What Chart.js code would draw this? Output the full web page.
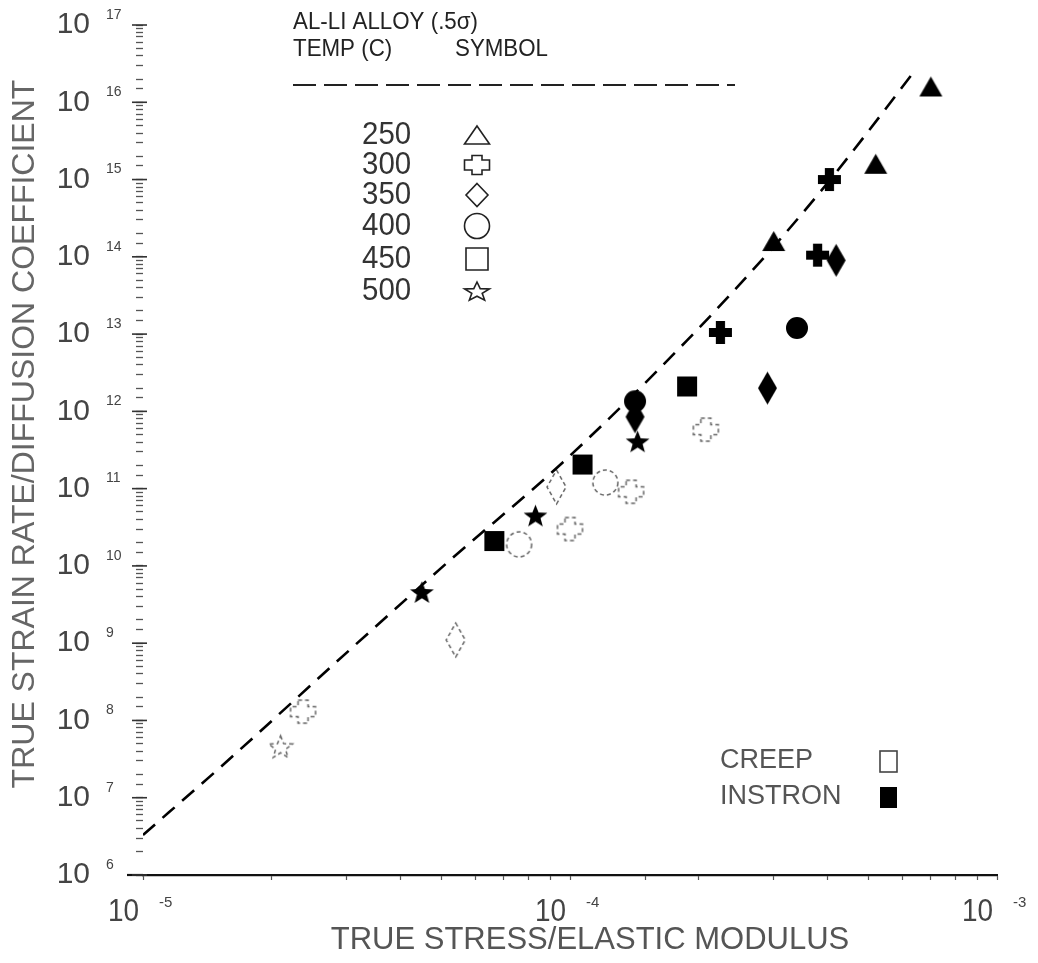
<!DOCTYPE html>
<html>
<head>
<meta charset="utf-8">
<title>Al-Li alloy creep</title>
<script src="https://cdn.jsdelivr.net/npm/chart.js@4.4.1/dist/chart.umd.min.js"></script>
<style>
  html, body { margin: 0; padding: 0; background: #fff; }
  #wrap { width: 1038px; height: 963px; position: relative; }
</style>
</head>
<body>
<div id="wrap"><canvas id="chart"></canvas></div>
<script>
// ---- data (x = true stress / E, y = strain rate / D) ----
const temps = ['250', '300', '350', '400', '450', '500'];
const shapes = ['triangle', 'cross', 'diamond', 'circle', 'square', 'star'];

// INSTRON tests (filled symbols)
const instron250 = [{ x: 7.0e-4, y: 1.6e16 }, { x: 5.2e-4, y: 1.6e15 }, { x: 3.0e-4, y: 1.6e14 }];
const instron300 = [{ x: 4.05e-4, y: 1.0e15 }, { x: 3.8e-4, y: 1.05e14 }, { x: 2.25e-4, y: 1.05e13 }];
const instron350 = [{ x: 4.2e-4, y: 9.0e13 }, { x: 2.9e-4, y: 2.0e12 }, { x: 1.42e-4, y: 8.5e11 }];
const instron400 = [{ x: 3.4e-4, y: 1.2e13 }, { x: 1.42e-4, y: 1.35e12 }];
const instron450 = [{ x: 1.88e-4, y: 2.1e12 }, { x: 1.07e-4, y: 2.05e11 }, { x: 6.65e-5, y: 2.1e10 }];
const instron500 = [{ x: 1.44e-4, y: 4.1e11 }, { x: 8.3e-5, y: 4.5e10 }, { x: 4.5e-5, y: 4.6e9 }];

// CREEP tests (open symbols)
const creep300 = [{ x: 2.08e-4, y: 5.8e11 }, { x: 1.39e-4, y: 9.1e10 }, { x: 1.0e-4, y: 3.0e10 }, { x: 2.37e-5, y: 1.3e8 }];
const creep350 = [{ x: 9.3e-5, y: 1.05e11 }, { x: 5.4e-5, y: 1.1e9 }];
const creep400 = [{ x: 1.21e-4, y: 1.2e11 }, { x: 7.6e-5, y: 1.9e10 }];
const creep500 = [{ x: 2.1e-5, y: 4.6e7 }];

// dashed fit curve
const fitX = [1.0e-5, 1.52e-5, 3.1e-5, 5.24e-5, 9.63e-5, 1.88e-4, 2.99e-4, 4.06e-4, 4.96e-4, 6.43e-4];
const fitY = [3.3e6, 2.5e7, 8.9e8, 1.19e10, 2.2e11, 8.3e12, 1.33e14, 9.8e14, 4.0e15, 2.6e16];

// tick labels (powers of ten)
const xExps = [-5, -4, -3];
const yExps = [6, 7, 8, 9, 10, 11, 12, 13, 14, 15, 16, 17];

const FONT = '"Liberation Sans", Arial, sans-serif';

function shapePath(c, shape, w, h) {
  const a = w / 2, b = h / 2;
  c.beginPath();
  if (shape === 'triangle') {
    c.moveTo(0, -b); c.lineTo(a, b); c.lineTo(-a, b); c.closePath();
  } else if (shape === 'cross') {
    const t = w * 0.2;
    c.moveTo(-t, -b); c.lineTo(t, -b); c.lineTo(t, -t); c.lineTo(a, -t); c.lineTo(a, t);
    c.lineTo(t, t); c.lineTo(t, b); c.lineTo(-t, b); c.lineTo(-t, t); c.lineTo(-a, t);
    c.lineTo(-a, -t); c.lineTo(-t, -t); c.closePath();
  } else if (shape === 'diamond') {
    c.moveTo(0, -b); c.lineTo(a, 0); c.lineTo(0, b); c.lineTo(-a, 0); c.closePath();
  } else if (shape === 'circle') {
    c.ellipse(0, 0, a, b, 0, 0, Math.PI * 2);
  } else if (shape === 'square') {
    c.rect(-a, -b, w, h);
  } else if (shape === 'star') {
    for (let i = 0; i < 10; i++) {
      const r = i % 2 ? 0.42 : 1;
      const ang = -Math.PI / 2 + i * Math.PI / 5;
      c.lineTo(Math.cos(ang) * a * r, Math.sin(ang) * b * r + b * 0.1);
    }
    c.closePath();
  }
}

// marker images used as Chart.js pointStyle
function makeMarker(shape, w, h, filled) {
  const cv = document.createElement('canvas');
  cv.width = w + 4;
  cv.height = h + 4;
  const c = cv.getContext('2d');
  c.translate(cv.width / 2, cv.height / 2);
  shapePath(c, shape, w, h);
  if (filled) {
    c.fillStyle = '#000';
    c.fill();
  } else {
    c.strokeStyle = '#666';
    c.lineWidth = 1.5;
    c.setLineDash([4, 3]);
    c.stroke();
  }
  return cv;
}

const filledSize = { triangle: [23, 20], cross: [23, 23], diamond: [19, 33], circle: [22, 22], square: [20, 20], star: [25, 24] };
const openSize = { triangle: [24, 20], cross: [25, 23], diamond: [19, 34], circle: [25, 25], square: [22, 22], star: [25, 24] };

function pointSet(label, data, shape, filled) {
  const s = filled ? filledSize[shape] : openSize[shape];
  return {
    type: 'scatter',
    label: label,
    data: data,
    pointStyle: makeMarker(shape, s[0], s[1], filled),
    pointRadius: 6,
    showLine: false,
  };
}

function txt(c, s, px, py, size, opt) {
  opt = opt || {};
  c.save();
  c.font = size + 'px ' + FONT;
  c.fillStyle = opt.color || '#333';
  c.textAlign = opt.align || 'left';
  c.textBaseline = 'middle';
  c.translate(px, py);
  if (opt.rot) c.rotate(opt.rot);
  c.scale(opt.sx || 1, 1);
  c.fillText(s, 0, 0);
  c.restore();
}

const overlay = {
  id: 'overlay',
  afterDraw(chart) {
    const c = chart.ctx;
    const x = chart.scales.x;
    const y = chart.scales.y;

    // x axis line runs a bit past the left edge
    c.save();
    c.strokeStyle = '#111';
    c.lineWidth = 2.2;
    c.beginPath();
    c.moveTo(127, y.bottom);
    c.lineTo(x.left, y.bottom);
    c.stroke();

    // longer major ticks on the y axis
    c.lineWidth = 1.6;
    c.strokeStyle = '#333';
    yExps.forEach(e => {
      const py = y.getPixelForValue(Math.pow(10, e));
      c.beginPath();
      c.moveTo(x.left - 11, py);
      c.lineTo(x.left + 4, py);
      c.stroke();
    });
    c.restore();

    // y tick labels 10^n
    yExps.forEach(e => {
      const py = y.getPixelForValue(Math.pow(10, e));
      txt(c, '10', 90, py, 30, { align: 'right', color: '#444' });
      txt(c, String(e), 106, py - 10, 14, { color: '#444' });
    });

    // x tick labels 10^-n
    xExps.forEach(e => {
      const px = x.getPixelForValue(Math.pow(10, e));
      txt(c, '10', px - 4, y.bottom + 37, 31, { align: 'right', color: '#444', sx: 0.9 });
      txt(c, '-' + Math.abs(e), px + 16, y.bottom + 28, 15, { color: '#444' });
    });

    // axis titles
    txt(c, 'TRUE STRESS/ELASTIC MODULUS', 590, 940, 31, { align: 'center', color: '#555' });
    txt(c, 'TRUE STRAIN RATE/DIFFUSION COEFFICIENT', 25, 434, 32, { align: 'center', color: '#666', rot: -Math.PI / 2 });

    // header of the symbol table
    txt(c, 'AL-LI ALLOY (.5\u03C3)', 293, 22, 24, { color: '#222', sx: 0.93 });
    txt(c, 'TEMP (C)', 293, 49, 24, { color: '#222', sx: 0.93 });
    txt(c, 'SYMBOL', 455, 49, 24, { color: '#222', sx: 0.93 });

    c.save();
    c.strokeStyle = '#222';
    c.lineWidth = 2;
    c.setLineDash([23, 8]);
    c.beginPath();
    c.moveTo(293, 85);
    c.lineTo(735, 85);
    c.stroke();
    c.restore();

    const rowY = [135, 165, 195, 226, 259, 291];
    const legW = [25, 25, 22, 25, 22, 26];
    const legH = [18, 19, 23, 25, 22, 20];
    temps.forEach((t, i) => {
      txt(c, t, 362, rowY[i], 31, { color: '#333', sx: 0.95 });
      c.save();
      c.translate(477, rowY[i]);
      shapePath(c, shapes[i], legW[i], legH[i]);
      c.strokeStyle = '#222';
      c.lineWidth = 1.6;
      c.stroke();
      c.restore();
    });

    // creep / instron key
    txt(c, 'CREEP', 720, 761, 27, { color: '#555' });
    txt(c, 'INSTRON', 720, 797, 27, { color: '#555' });
    c.save();
    c.strokeStyle = '#444';
    c.lineWidth = 1.6;
    c.strokeRect(880, 751, 17, 21);
    c.fillStyle = '#000';
    c.fillRect(880, 787, 17, 21);
    c.restore();
  }
};

const ctx = document.getElementById('chart').getContext('2d');
new Chart(ctx, {
  type: 'scatter',
  data: {
    datasets: [
      {
        type: 'line',
        label: 'fit',
        data: fitX.map((v, i) => ({ x: v, y: fitY[i] })),
        borderColor: '#000',
        borderWidth: 2.6,
        borderDash: [16, 10],
        pointRadius: 0,
        fill: false,
        cubicInterpolationMode: 'monotone',
      },
      pointSet('250 instron', instron250, 'triangle', true),
      pointSet('300 instron', instron300, 'cross', true),
      pointSet('350 instron', instron350, 'diamond', true),
      pointSet('400 instron', instron400, 'circle', true),
      pointSet('450 instron', instron450, 'square', true),
      pointSet('500 instron', instron500, 'star', true),
      pointSet('300 creep', creep300, 'cross', false),
      pointSet('350 creep', creep350, 'diamond', false),
      pointSet('400 creep', creep400, 'circle', false),
      pointSet('500 creep', creep500, 'star', false),
    ],
  },
  options: {
    responsive: true,
    maintainAspectRatio: false,
    animation: false,
    devicePixelRatio: 1,
    layout: {
      padding: { top: 25, right: 41, left: 0, bottom: 0 },
    },
    plugins: {
      legend: { display: false },
      tooltip: { enabled: false },
    },
    scales: {
      x: {
        type: 'logarithmic',
        position: 'bottom',
        min: 1e-5,
        max: 1e-3,
        afterFit: (s) => { s.height = 88; },
        border: { display: true, color: '#111', width: 2.2 },
        grid: {
          display: true,
          drawOnChartArea: false,
          drawTicks: true,
          tickLength: 5,
          tickColor: '#555',
          tickWidth: 1.2,
        },
        ticks: { display: false },
      },
      y: {
        type: 'logarithmic',
        position: 'left',
        min: 1e6,
        max: 1e17,
        afterFit: (s) => { s.width = 143; },
        border: { display: false },
        grid: {
          display: true,
          drawOnChartArea: false,
          drawTicks: true,
          tickLength: 7,
          tickColor: '#555',
          tickWidth: 1.3,
        },
        ticks: { display: false },
      },
    },
  },
  plugins: [overlay],
});
</script>
</body>
</html>
